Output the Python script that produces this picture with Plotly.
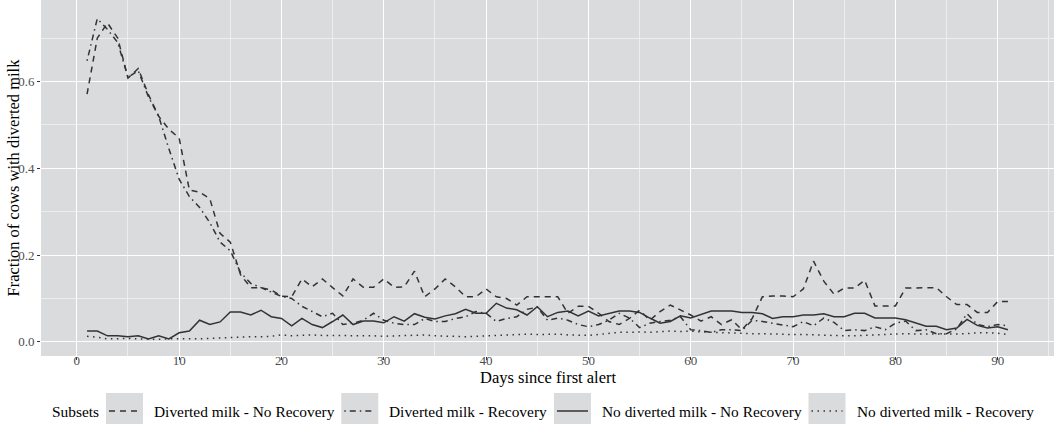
import plotly.graph_objects as go

# Days since the first alert
days = list(range(1, 92))

# Fraction of cows with diverted milk, per subset
diverted_no_recovery = [
    0.571, 0.700, 0.735, 0.700, 0.608, 0.630, 0.570, 0.520, 0.490, 0.470,
    0.350, 0.345, 0.330, 0.250, 0.230, 0.155, 0.125, 0.125, 0.120, 0.105,
    0.104, 0.145, 0.127, 0.145, 0.125, 0.106, 0.145, 0.126, 0.126, 0.145,
    0.126, 0.127, 0.163, 0.104, 0.122, 0.145, 0.127, 0.104, 0.104, 0.122,
    0.104, 0.100, 0.085, 0.104, 0.104, 0.104, 0.104, 0.066, 0.082, 0.082,
    0.066, 0.047, 0.040, 0.054, 0.073, 0.050, 0.070, 0.085, 0.073, 0.062,
    0.048, 0.058, 0.040, 0.051, 0.028, 0.054, 0.104, 0.106, 0.106, 0.104,
    0.122, 0.186, 0.140, 0.110, 0.124, 0.124, 0.142, 0.083, 0.083, 0.083,
    0.124, 0.124, 0.124, 0.125, 0.104, 0.086, 0.086, 0.068, 0.068, 0.093,
    0.093,
]
diverted_recovery = [
    0.648, 0.745, 0.720, 0.690, 0.610, 0.625, 0.565, 0.520, 0.445, 0.375,
    0.335, 0.310, 0.275, 0.230, 0.210, 0.160, 0.135, 0.125, 0.115, 0.105,
    0.100, 0.082, 0.070, 0.058, 0.066, 0.040, 0.043, 0.050, 0.066, 0.050,
    0.043, 0.040, 0.040, 0.054, 0.047, 0.047, 0.054, 0.058, 0.070, 0.066,
    0.047, 0.054, 0.058, 0.075, 0.080, 0.050, 0.055, 0.050, 0.040, 0.035,
    0.040, 0.050, 0.066, 0.055, 0.033, 0.043, 0.047, 0.050, 0.058, 0.028,
    0.026, 0.022, 0.028, 0.028, 0.026, 0.050, 0.047, 0.043, 0.040, 0.035,
    0.047, 0.037, 0.055, 0.045, 0.026, 0.028, 0.026, 0.035, 0.028, 0.043,
    0.048, 0.026, 0.028, 0.019, 0.019, 0.030, 0.065, 0.040, 0.035, 0.040,
    0.037,
]
no_diverted_no_recovery = [
    0.025, 0.025, 0.014, 0.014, 0.012, 0.014, 0.007, 0.014, 0.007, 0.021,
    0.025, 0.050, 0.040, 0.046, 0.069, 0.069, 0.062, 0.073, 0.058, 0.054,
    0.037, 0.054, 0.040, 0.033, 0.047, 0.062, 0.040, 0.048, 0.048, 0.044,
    0.058, 0.048, 0.065, 0.057, 0.053, 0.060, 0.065, 0.075, 0.066, 0.066,
    0.089, 0.078, 0.074, 0.062, 0.081, 0.058, 0.068, 0.071, 0.060, 0.071,
    0.060, 0.066, 0.071, 0.071, 0.068, 0.055, 0.043, 0.047, 0.060, 0.055,
    0.063, 0.071, 0.071, 0.071, 0.068, 0.068, 0.065, 0.054, 0.058, 0.058,
    0.062, 0.062, 0.065, 0.058, 0.058, 0.066, 0.066, 0.055, 0.055, 0.055,
    0.051, 0.044, 0.036, 0.036, 0.028, 0.032, 0.052, 0.038, 0.032, 0.035,
    0.028,
]
no_diverted_recovery = [
    0.013, 0.011, 0.007, 0.008, 0.008, 0.007, 0.006, 0.006, 0.007, 0.007,
    0.006, 0.007, 0.008, 0.009, 0.011, 0.012, 0.012, 0.012, 0.013, 0.016,
    0.014, 0.015, 0.016, 0.015, 0.015, 0.015, 0.014, 0.014, 0.014, 0.013,
    0.014, 0.015, 0.015, 0.016, 0.014, 0.013, 0.012, 0.012, 0.013, 0.014,
    0.014, 0.015, 0.016, 0.018, 0.017, 0.017, 0.018, 0.016, 0.015, 0.015,
    0.017, 0.019, 0.022, 0.022, 0.023, 0.022, 0.024, 0.025, 0.024, 0.025,
    0.023, 0.022, 0.022, 0.021, 0.020, 0.019, 0.019, 0.018, 0.018, 0.017,
    0.017, 0.016, 0.015, 0.014, 0.014, 0.014, 0.015, 0.016, 0.017, 0.018,
    0.019, 0.018, 0.018, 0.017, 0.017, 0.018, 0.019, 0.021, 0.021, 0.020,
    0.017,
]

subset_names = [
    "Diverted milk - No Recovery",
    "Diverted milk - Recovery",
    "No diverted milk - No Recovery",
    "No diverted milk - Recovery",
]
subset_values = [
    diverted_no_recovery,
    diverted_recovery,
    no_diverted_no_recovery,
    no_diverted_recovery,
]
subset_dashes = ["6px,5px", "1.5px,4px,6px,4px", "solid", "1.5px,4.5px"]

x_ticks = [0, 10, 20, 30, 40, 50, 60, 70, 80, 90]
y_ticks = [0.0, 0.2, 0.4, 0.6]
y_tick_text = ["0.0", "0.2", "0.4", "0.6"]

SERIF = "Liberation Serif, Times New Roman, serif"
LINE_COLOR = "#333333"
PANEL = "#dadbdd"
LINE_W = 1.5

W, H = 1058, 424
M_L, M_R, M_T, M_B = 41, 4, 0, 68
PLOT_W = W - M_L - M_R
PLOT_H = H - M_T - M_B


def px_to_paper_x(px):
    return (px - M_L) / PLOT_W


def px_to_paper_y(py):
    return (PLOT_H + M_T - py) / PLOT_H


fig = go.Figure()
for name, vals, dash in zip(subset_names, subset_values, subset_dashes):
    fig.add_trace(go.Scatter(
        x=days, y=vals, mode="lines", name=name, showlegend=False,
        line=dict(color=LINE_COLOR, width=LINE_W, dash=dash),
    ))

# Legend row along the bottom: title, then a grey key with a line sample
# and the subset label for each series.
LEG_FONT = 15.4
TITLE_FONT = 16.5
LEG_Y = 411
legend_title_x = 50
key_left = [106, 341.3, 554, 808.5]
key_w, key_h = 37, 36
label_left = [152, 387.3, 600, 854.5]

annotations = [
    dict(text="Subsets", xref="paper", yref="paper",
         x=px_to_paper_x(legend_title_x), y=px_to_paper_y(LEG_Y),
         xanchor="left", yanchor="middle", showarrow=False,
         font=dict(family=SERIF, size=LEG_FONT, color="black")),
    dict(text="Days since first alert", xref="paper", yref="paper",
         x=0.5, y=px_to_paper_y(377),
         xanchor="center", yanchor="middle", showarrow=False,
         font=dict(family=SERIF, size=TITLE_FONT, color="black")),
    dict(text="Fraction of cows with diverted milk", xref="paper", yref="paper",
         x=px_to_paper_x(12.5), y=0.5, textangle=-90,
         xanchor="center", yanchor="middle", showarrow=False,
         font=dict(family=SERIF, size=TITLE_FONT, color="black")),
]
shapes = []
for name, dash, kx, lx in zip(subset_names, subset_dashes, key_left, label_left):
    shapes.append(dict(
        type="rect", xref="paper", yref="paper", layer="below",
        x0=px_to_paper_x(kx), x1=px_to_paper_x(kx + key_w),
        y0=px_to_paper_y(LEG_Y - key_h / 2), y1=px_to_paper_y(LEG_Y + key_h / 2),
        fillcolor=PANEL, line=dict(width=0),
    ))
    shapes.append(dict(
        type="line", xref="paper", yref="paper", layer="above",
        x0=px_to_paper_x(kx + 3), x1=px_to_paper_x(kx + key_w - 3),
        y0=px_to_paper_y(LEG_Y), y1=px_to_paper_y(LEG_Y),
        line=dict(color=LINE_COLOR, width=LINE_W, dash=dash),
    ))
    annotations.append(dict(
        text=name, xref="paper", yref="paper",
        x=px_to_paper_x(lx), y=px_to_paper_y(LEG_Y),
        xanchor="left", yanchor="middle", showarrow=False,
        font=dict(family=SERIF, size=LEG_FONT, color="black"),
    ))

fig.update_layout(
    width=W, height=H,
    margin=dict(l=M_L, r=M_R, t=M_T, b=M_B),
    paper_bgcolor="white",
    plot_bgcolor=PANEL,
    font=dict(family=SERIF, color="black", size=15),
    showlegend=False,
    annotations=annotations,
    shapes=shapes,
)

fig.update_xaxes(
    range=[-3.5, 95.5], tickvals=x_ticks, ticks="outside", ticklen=3,
    tickcolor="#333333", tickfont=dict(family=SERIF, size=13, color="#4d4d4d"),
    ticklabelstandoff=-11,
    showgrid=True, gridcolor="white", gridwidth=1.1, zeroline=False,
    showline=False,
    minor=dict(tickvals=[5, 15, 25, 35, 45, 55, 65, 75, 85, 95],
               showgrid=True, gridcolor="#eeeeef", gridwidth=0.5, ticks=""),
)
fig.update_yaxes(
    range=[-0.0325, 0.788], tickvals=y_ticks, ticktext=y_tick_text,
    ticks="outside", ticklen=3, tickcolor="#333333",
    tickfont=dict(family=SERIF, size=13, color="#4d4d4d"),
    showgrid=True, gridcolor="white", gridwidth=1.1, zeroline=False,
    showline=False,
    minor=dict(tickvals=[0.1, 0.3, 0.5, 0.7],
               showgrid=True, gridcolor="#eeeeef", gridwidth=0.5, ticks=""),
)

fig.write_html("out.html")
